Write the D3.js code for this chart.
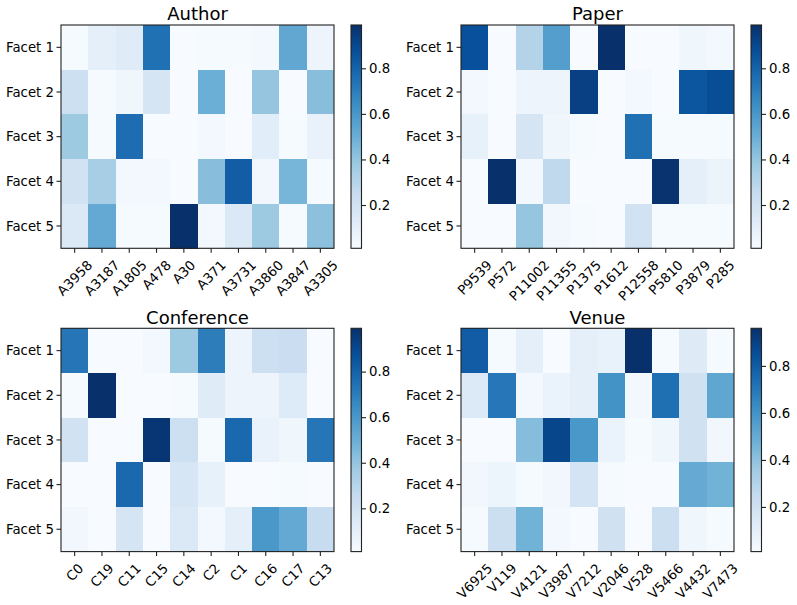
<!DOCTYPE html>
<html>
<head>
<meta charset="utf-8">
<script src="https://cdn.jsdelivr.net/npm/d3@7"></script>
<style>
  html, body { margin: 0; padding: 0; background: #fff; }
  svg { display: block; }
  text { font-family: "DejaVu Sans", sans-serif; fill: #000; }
</style>
</head>
<body>
<svg id="chart" width="797" height="605"></svg>
<script>
// ---------------- data ----------------
const facets = ["Facet 1", "Facet 2", "Facet 3", "Facet 4", "Facet 5"];

const authorCols = ["A3958", "A3187", "A1805", "A478", "A30", "A371", "A3731", "A3860", "A3847", "A3305"];
const authorValues = [
  [0.02, 0.10, 0.13, 0.75, 0.01, 0.02, 0.02, 0.03, 0.53, 0.06],
  [0.22, 0.02, 0.05, 0.18, 0.01, 0.50, 0.01, 0.40, 0.01, 0.43],
  [0.38, 0.02, 0.76, 0.01, 0.01, 0.03, 0.01, 0.12, 0.02, 0.08],
  [0.20, 0.35, 0.03, 0.03, 0.01, 0.43, 0.82, 0.04, 0.47, 0.02],
  [0.15, 0.52, 0.02, 0.02, 0.99, 0.03, 0.15, 0.38, 0.02, 0.42]
];

const paperCols = ["P9539", "P572", "P11002", "P11355", "P1375", "P1612", "P12558", "P5810", "P3879", "P285"];
const paperValues = [
  [0.87, 0.01, 0.31, 0.57, 0.01, 0.99, 0.01, 0.01, 0.05, 0.03],
  [0.03, 0.01, 0.06, 0.06, 0.93, 0.01, 0.03, 0.01, 0.85, 0.88],
  [0.09, 0.01, 0.18, 0.05, 0.02, 0.01, 0.75, 0.02, 0.02, 0.02],
  [0.01, 0.99, 0.03, 0.27, 0.01, 0.01, 0.01, 0.98, 0.10, 0.07],
  [0.01, 0.01, 0.40, 0.04, 0.02, 0.01, 0.20, 0.02, 0.02, 0.02]
];

const confCols = ["C0", "C19", "C11", "C15", "C14", "C2", "C1", "C16", "C17", "C13"];
const confValues = [
  [0.73, 0.01, 0.01, 0.03, 0.38, 0.70, 0.06, 0.22, 0.23, 0.01],
  [0.02, 0.99, 0.01, 0.01, 0.02, 0.13, 0.06, 0.06, 0.14, 0.01],
  [0.20, 0.01, 0.01, 0.97, 0.22, 0.02, 0.78, 0.08, 0.05, 0.73],
  [0.01, 0.01, 0.78, 0.01, 0.17, 0.09, 0.01, 0.01, 0.02, 0.01],
  [0.04, 0.01, 0.18, 0.01, 0.15, 0.03, 0.10, 0.60, 0.52, 0.25]
];

const venueCols = ["V6925", "V119", "V4121", "V3987", "V7212", "V2046", "V528", "V5466", "V4432", "V7473"];
const venueValues = [
  [0.80, 0.02, 0.10, 0.01, 0.10, 0.08, 0.96, 0.02, 0.13, 0.02],
  [0.14, 0.70, 0.03, 0.07, 0.10, 0.60, 0.03, 0.73, 0.20, 0.52],
  [0.01, 0.01, 0.42, 0.88, 0.58, 0.07, 0.02, 0.05, 0.20, 0.04],
  [0.04, 0.06, 0.02, 0.04, 0.18, 0.02, 0.01, 0.01, 0.50, 0.47],
  [0.02, 0.22, 0.47, 0.03, 0.01, 0.20, 0.01, 0.22, 0.05, 0.02]
];

const panels = [
  { title: "Author", cols: authorCols, values: authorValues },
  { title: "Paper", cols: paperCols, values: paperValues },
  { title: "Conference", cols: confCols, values: confValues },
  { title: "Venue", cols: venueCols, values: venueValues }
];

// matplotlib "Blues" colormap stops
const bluesStops = ["#f7fbff", "#deebf7", "#c6dbef", "#9ecae1", "#6baed6", "#4292c6", "#2171b5", "#08519c", "#08306b"];

// ---------------- layout ----------------
const svg = d3.select("#chart");
const W = 273, H = 223.3;
const origins = [[61, 25], [461, 25], [61, 328.3], [461, 328.3]];
const TICK = 4.5, PAD = 4.5, FS = 13.3;

const defs = svg.append("defs");
const grad = defs.append("linearGradient").attr("id", "bluesGrad")
  .attr("x1", 0).attr("y1", 1).attr("x2", 0).attr("y2", 0);
bluesStops.forEach((c, i) => grad.append("stop")
  .attr("offset", (i / (bluesStops.length - 1))).attr("stop-color", c));

panels.forEach((p, pi) => {
  const [ox, oy] = origins[pi];
  const g = svg.append("g").attr("transform", `translate(${ox},${oy})`);
  const flat = p.values.flat();
  const ext = d3.extent(flat);
  const color = d3.scaleLinear()
    .domain(bluesStops.map((_, i) => ext[0] + (ext[1] - ext[0]) * i / (bluesStops.length - 1)))
    .range(bluesStops)
    .interpolate(d3.interpolateRgb)
    .clamp(true);

  const x = d3.scaleBand().domain(p.cols).range([0, W]).padding(0);
  const y = d3.scaleBand().domain(facets).range([0, H]).padding(0);

  // cells
  const cells = [];
  p.values.forEach((row, ri) => row.forEach((v, ci) => cells.push({ r: facets[ri], c: p.cols[ci], v })));
  g.append("g").selectAll("rect").data(cells).join("rect")
    .attr("x", d => x(d.c)).attr("y", d => y(d.r))
    .attr("width", x.bandwidth() + 0.3).attr("height", y.bandwidth() + 0.3)
    .attr("fill", d => color(d.v))
    .attr("shape-rendering", "crispEdges");

  // frame
  g.append("rect").attr("x", 0).attr("y", 0).attr("width", W).attr("height", H)
    .attr("fill", "none").attr("stroke", "#222").attr("stroke-width", 1.1);

  // y axis
  facets.forEach(f => {
    const cy = y(f) + y.bandwidth() / 2;
    g.append("line").attr("x1", 0).attr("x2", -TICK).attr("y1", cy).attr("y2", cy)
      .attr("stroke", "#222").attr("stroke-width", 1.1);
    g.append("text").attr("x", -TICK - PAD + 2).attr("y", cy).attr("dy", "0.36em")
      .attr("text-anchor", "end").attr("font-size", FS).text(f);
  });

  // x axis
  p.cols.forEach(c => {
    const cx = x(c) + x.bandwidth() / 2;
    g.append("line").attr("x1", cx).attr("x2", cx).attr("y1", H).attr("y2", H + TICK)
      .attr("stroke", "#222").attr("stroke-width", 1.1);
    const t = g.append("text").attr("text-anchor", "middle").attr("dy", "0.35em")
      .attr("font-size", FS).text(c);
    const w = t.node().getComputedTextLength();
    const side = (w + FS * 1.164) / Math.SQRT2;
    t.attr("transform", `translate(${cx},${H + TICK + PAD + side / 2}) rotate(-45)`);
  });

  // title
  g.append("text").attr("x", W / 2).attr("y", -4.6).attr("text-anchor", "middle")
    .attr("font-size", 18).text(p.title);

  // colorbar
  const cbX = 290, cbW = 10.5;
  const cb = g.append("g").attr("transform", `translate(${cbX},0)`);
  cb.append("rect").attr("x", 0).attr("y", 0).attr("width", cbW).attr("height", H)
    .attr("fill", "url(#bluesGrad)");
  cb.append("rect").attr("x", 0).attr("y", 0).attr("width", cbW).attr("height", H)
    .attr("fill", "none").attr("stroke", "#222").attr("stroke-width", 1.1);
  const cs = d3.scaleLinear().domain(ext).range([H, 0]);
  const ticks = cs.ticks(5).filter(t => t >= ext[0] && t <= ext[1]);
  const axis = d3.axisRight(cs).tickValues(ticks).tickFormat(d3.format(".1f"))
    .tickSize(TICK).tickPadding(PAD - 1.5);
  const ag = cb.append("g").attr("transform", `translate(${cbW},0)`).call(axis);
  ag.select(".domain").remove();
  ag.selectAll(".tick line").attr("stroke", "#222").attr("stroke-width", 1.1);
  ag.selectAll(".tick text").attr("font-size", FS)
    .attr("font-family", '"DejaVu Sans", sans-serif').attr("fill", "#000");
});
</script>
</body>
</html>
